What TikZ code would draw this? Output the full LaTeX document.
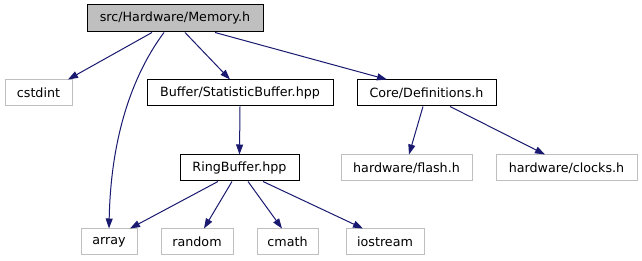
\documentclass[tikz,border=0pt]{standalone}
\usepackage{fontspec}
\setmainfont{DejaVu Sans}
\usetikzlibrary{arrows.meta}

\definecolor{edgeblue}{HTML}{191970}
\definecolor{extgray}{HTML}{BFBFBF}
\definecolor{rootgray}{HTML}{BFBFBF}

\begin{document}
\begin{tikzpicture}[x=1pt,y=-1pt,->,>={Triangle[length=10pt,width=7pt]},
                    line width=1pt]
  \tikzstyle{every node}=[font=\fontsize{12.7}{15}\selectfont,inner sep=0pt,
                          minimum height=26pt,line width=1pt]
  \tikzstyle{docfile}=[draw=black]
  \tikzstyle{extfile}=[draw=extgray]
  \tikzstyle{rootfile}=[draw=black,fill=rootgray,minimum height=27pt]
  \tikzstyle{inc}=[draw=edgeblue]

  \useasboundingbox (0,0) rectangle (642,261);

  \node[rootfile,minimum width=176pt] (Memory)   at (175,18.5)  {src/Hardware/Memory.h};

  \node[extfile,minimum width=67pt]   (cstdint)  at (38.5,93)   {cstdint};
  \node[docfile,minimum width=186pt]  (StatBuf)  at (240,93)    {Buffer/StatisticBuffer.hpp};
  \node[docfile,minimum width=139pt]  (CoreDefs) at (426.5,93)  {Core/Definitions.h};

  \node[docfile,minimum width=119pt]  (RingBuf)  at (239.5,168) {RingBuffer.hpp};
  \node[extfile,minimum width=131pt]  (flash)    at (406.5,168) {hardware/flash.h};
  \node[extfile,minimum width=141pt]  (clocks)   at (566.5,168) {hardware/clocks.h};

  \node[extfile,minimum width=56pt]   (array)    at (109,242)   {array};
  \node[extfile,minimum width=72pt]   (random)   at (197,242)   {random};
  \node[extfile,minimum width=61pt]   (cmath)    at (287.5,242) {cmath};
  \node[extfile,minimum width=78pt]   (iostream) at (385,242)   {iostream};

  % includes of Memory.h
  \path ([xshift=-23]Memory.south)  edge[inc] ([xshift=29.5]cstdint.north)
        ([xshift=10]Memory.south)   edge[inc] ([xshift=-10]StatBuf.north)
        ([xshift=40]Memory.south)   edge[inc] ([xshift=-39.5]CoreDefs.north);
  \draw[inc] ([xshift=-11]Memory.south) .. controls (136,70) and (111,130) .. (array.north);

  \path (StatBuf.south) edge[inc] (RingBuf.north);

  % includes of Definitions.h
  \path ([xshift=-3.5]CoreDefs.south) edge[inc] ([xshift=2.5]flash.north)
        ([xshift=23.5]CoreDefs.south) edge[inc] ([xshift=-21.5]clocks.north);

  % includes of RingBuffer.hpp
  \path ([xshift=-21.5]RingBuf.south) edge[inc] ([xshift=21]array.north)
        ([xshift=-7.5]RingBuf.south)  edge[inc] ([xshift=7]random.north)
        ([xshift=8.5]RingBuf.south)   edge[inc] ([xshift=-5.5]cmath.north)
        ([xshift=23.5]RingBuf.south)  edge[inc] ([xshift=-22]iostream.north);
\end{tikzpicture}
\end{document}
